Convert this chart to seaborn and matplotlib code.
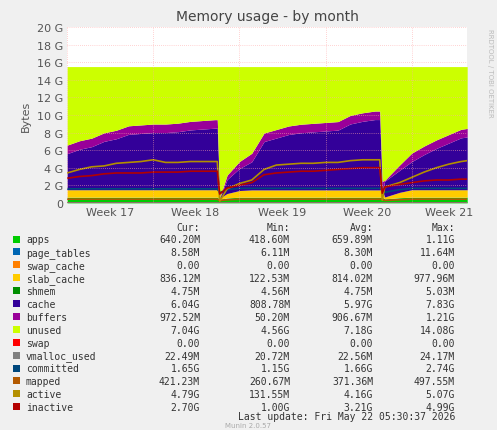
import matplotlib as mpl
mpl.use('agg')
import matplotlib.pyplot as plt
import numpy as np
import pandas as pd
import seaborn as sns

# time axis in days from the left edge of the graph
days = [0, 1, 2, 3, 4, 5, 6, 7, 8, 9, 10, 11, 12, 12.2, 12.4, 13, 14, 15, 16, 17, 18,
        19, 20, 21, 22, 23, 24, 25, 25.4, 25.6, 25.8, 27, 28, 29, 30, 31, 32, 32.5]

# stacked areas (GB)
apps = [0.64] * 14 + [0.42, 0.55] + [0.64] * 14 + [0.45, 0.58] + [0.64] * 6
page_tables = [0.009] * len(days)
swap_cache = [0.0] * len(days)
slab_cache = [0.84] * 14 + [0.12, 0.5, 0.75] + [0.82] * 13 + [0.2, 0.6] + [0.84] * 6
shmem = [0.005] * len(days)
cache = [4.1, 4.6, 4.9, 5.5, 5.8, 6.3, 6.4, 6.5, 6.5, 6.6, 6.8, 6.9, 7.0, 7.0,
         0.0, 1.6, 2.5, 3.2, 5.5, 5.9, 6.3, 6.5, 6.6, 6.7, 6.8, 7.5, 7.8, 8.0, 8.0,
         0.0, 1.8, 2.5, 3.2, 4.0, 4.7, 5.3, 5.9, 6.0]
buffers = [0.97] * 14 + [0.05, 0.5, 0.8] + [0.97] * 13 + [0.1, 0.6] + [0.97] * 6
total = 15.5

# lines (GB)
swap = [0.0] * len(days)
vmalloc_used = [0.022] * len(days)
committed = [1.6] * 14 + [1.15, 1.5] + [1.65] * 14 + [1.2, 1.5] + [1.65] * 6
mapped = [0.42] * 14 + [0.26, 0.35] + [0.42] * 14 + [0.28, 0.36] + [0.42] * 6
active = [3.4, 3.8, 4.1, 4.2, 4.5, 4.6, 4.7, 4.9, 4.6, 4.6, 4.7, 4.7, 4.7, 4.7,
          0.2, 1.6, 2.2, 2.6, 3.8, 4.3, 4.4, 4.5, 4.5, 4.6, 4.6, 4.8, 4.9, 4.9, 4.9,
          0.3, 1.8, 2.3, 2.9, 3.5, 4.0, 4.4, 4.7, 4.8]
inactive = [2.8, 3.0, 3.1, 3.3, 3.4, 3.4, 3.4, 3.5, 3.5, 3.5, 3.6, 3.6, 3.6, 3.6,
            1.0, 1.7, 2.0, 2.3, 3.2, 3.4, 3.5, 3.6, 3.6, 3.7, 3.8, 3.9, 4.0, 4.0, 4.0,
            1.1, 1.8, 2.1, 2.3, 2.5, 2.6, 2.6, 2.7, 2.7]

legend_rows = [
    ('apps', '#00CC00', '640.20M', '418.60M', '659.89M', '1.11G'),
    ('page_tables', '#0066B3', '8.58M', '6.11M', '8.30M', '11.64M'),
    ('swap_cache', '#FF8000', '0.00', '0.00', '0.00', '0.00'),
    ('slab_cache', '#FFCC00', '836.12M', '122.53M', '814.02M', '977.96M'),
    ('shmem', '#008F00', '4.75M', '4.56M', '4.75M', '5.03M'),
    ('cache', '#330099', '6.04G', '808.78M', '5.97G', '7.83G'),
    ('buffers', '#990099', '972.52M', '50.20M', '906.67M', '1.21G'),
    ('unused', '#CCFF00', '7.04G', '4.56G', '7.18G', '14.08G'),
    ('swap', '#FF0000', '0.00', '0.00', '0.00', '0.00'),
    ('vmalloc_used', '#808080', '22.49M', '20.72M', '22.56M', '24.17M'),
    ('committed', '#00487D', '1.65G', '1.15G', '1.66G', '2.74G'),
    ('mapped', '#B35A00', '421.23M', '260.67M', '371.36M', '497.55M'),
    ('active', '#B38F00', '4.79G', '131.55M', '4.16G', '5.07G'),
    ('inactive', '#B30000', '2.70G', '1.00G', '3.21G', '4.99G'),
]
colors = {r[0]: r[1] for r in legend_rows}

week_labels = ['Week 17', 'Week 18', 'Week 19', 'Week 20', 'Week 21']
week_pos = [3.5, 10.4, 17.5, 24.4, 31.0]
week_lines = [0.0, 7.0, 14.0, 21.0, 28.0]

sns.set_style('white')
plt.rcParams['font.family'] = ['DejaVu Sans']

fig = plt.figure(figsize=(4.97, 4.31), dpi=100, facecolor='#F0F0F0')
ax = fig.add_axes([0.135, 0.527, 0.805, 0.408], facecolor='white')

x = np.array(days)
used = [np.array(a) for a in (apps, page_tables, swap_cache, slab_cache, shmem, cache, buffers)]
unused = total - sum(used)
names = ['apps', 'page_tables', 'swap_cache', 'slab_cache', 'shmem', 'cache', 'buffers', 'unused']
ax.stackplot(x, *used, unused, colors=[colors[n] for n in names], linewidth=0)

df = pd.DataFrame({'day': days, 'swap': swap, 'vmalloc_used': vmalloc_used,
                   'committed': committed, 'mapped': mapped, 'active': active,
                   'inactive': inactive})
for n in ['swap', 'vmalloc_used', 'committed', 'mapped', 'active', 'inactive']:
    sns.lineplot(data=df, x='day', y=n, ax=ax, color=colors[n], linewidth=1.2)

ax.set_xlim(0, 32.5)
ax.set_ylim(0, 20)
ax.set_yticks(range(0, 21, 2))
ax.set_yticklabels(['0'] + [f'{v} G' for v in range(2, 21, 2)], fontsize=8, color='#555555')
ax.set_xticks(week_pos)
ax.set_xticklabels(week_labels, fontsize=8, color='#555555')
ax.tick_params(length=0, pad=3)
for v in range(2, 21, 2):
    ax.axhline(v, color='#FFAAAA', lw=0.5, ls=(0, (1, 2)), zorder=5)
for v in week_lines:
    ax.axvline(v, color='#FFAAAA', lw=0.5, ls=(0, (1, 2)), zorder=5)
for s in ax.spines.values():
    s.set_visible(False)
ax.set_xlabel('')
ax.set_ylabel('Bytes', fontsize=8, color='#555555')
ax.set_title('Memory usage - by month', fontsize=10, color='#444444', pad=5)
fig.text(0.985, 0.83, 'RRDTOOL / TOBI OETIKER', rotation=270, fontsize=5,
         color='#BBBBBB', ha='center', va='center')

# legend table
mono = dict(family='DejaVu Sans Mono', fontsize=7, color='#333333')
H = 431
fig.text(200 / 497, 1 - 228 / H, 'Cur:', ha='right', va='center', **mono)
fig.text(290 / 497, 1 - 228 / H, 'Min:', ha='right', va='center', **mono)
fig.text(373 / 497, 1 - 228 / H, 'Avg:', ha='right', va='center', **mono)
fig.text(455 / 497, 1 - 228 / H, 'Max:', ha='right', va='center', **mono)
for i, (name, col, cur, mn, avg, mx) in enumerate(legend_rows):
    yy = 1 - (240.5 + i * 12.9) / H
    fig.patches.append(plt.Rectangle((13 / 497, yy - 3 / H), 7 / 497, 7 / H,
                                     transform=fig.transFigure, facecolor=col,
                                     edgecolor='none'))
    fig.text(26 / 497, yy, name, ha='left', va='center', **mono)
    for xp, val in zip([200, 290, 373, 455], [cur, mn, avg, mx]):
        fig.text(xp / 497, yy, val, ha='right', va='center', **mono)
fig.text(455 / 497, 1 - 417 / H, 'Last update: Fri May 22 05:30:37 2026',
         ha='right', va='center', **mono)
fig.text(248 / 497, 1 - 426.5 / H, 'Munin 2.0.57', ha='center', va='center',
         fontsize=5, color='#AAAAAA')

fig.savefig('out.png', dpi=100, facecolor=fig.get_facecolor())
